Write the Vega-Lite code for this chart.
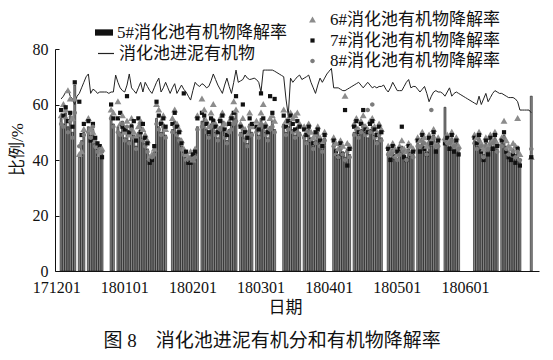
{
"$schema": "https://vega.github.io/schema/vega-lite/v6.json",
"width": 484, "height": 222,
"autosize": {"type": "none"},
"padding": {"left": 55, "top": 49, "right": 14, "bottom": 89},
"title": {"text": "图 8　消化池进泥有机分和有机物降解率", "orient": "bottom", "anchor": "middle", "fontSize": 19, "fontWeight": "normal", "color": "#111", "offset": 17, "dx": -25},
"config": {
 "font": "Liberation Serif, Noto Sans CJK SC",
 "view": {"stroke": null},
 "axis": {"labelFontSize": 16, "labelColor": "#111", "titleFontSize": 17, "titleFontWeight": "normal", "titleColor": "#111", "domainColor": "#111", "tickColor": "#111", "grid": false},
 "legend": {"labelFontSize": 17, "labelColor": "#111", "padding": 0, "labelLimit": 300}
},
"data": {"values": [
{"d":0,"b":55,"l":62,"t":56,"s":58,"c":53},
{"d":1,"b":53,"l":63,"t":60,"s":56,"c":52},
{"d":2,"b":57,"l":64.5,"t":58,"s":59,"c":55},
{"d":3,"b":52,"l":65.5,"t":65,"s":54,"c":50},
{"d":4,"b":56,"l":63,"t":62,"s":57,"c":54},
{"d":5,"b":50,"l":62,"t":55,"s":52,"c":48},
{"d":6,"b":67,"l":60,"t":62,"s":68,"c":57},
{"d":7,"l":63},
{"d":8,"b":41,"l":64,"t":42,"s":61,"c":45},
{"d":9,"b":47,"l":66,"t":43,"s":49,"c":46},
{"d":10,"b":50,"l":68,"t":51,"s":53,"c":49},
{"d":11,"l":70},
{"d":12,"b":52,"l":71,"t":55,"s":54,"c":50},
{"d":13,"b":49,"l":64,"t":51,"s":47,"c":48},
{"d":14,"b":51,"l":65.5,"t":50,"s":53,"c":52},
{"d":15,"b":46,"l":65,"t":47,"s":48,"c":45},
{"d":16,"b":44,"l":64,"t":45,"s":46,"c":43},
{"d":17,"b":43,"l":64.5,"t":42,"s":45,"c":44},
{"d":18,"b":42,"l":64.5,"t":44,"s":41,"c":43},
{"d":19,"l":64.5},
{"d":20,"l":64.5},
{"d":21,"l":64},
{"d":22,"b":56,"l":64.5,"t":58,"s":60,"c":55},
{"d":23,"b":53,"l":64.5,"t":57,"s":55,"c":52},
{"d":24,"l":70.6},
{"d":25,"b":52,"l":68,"t":61,"s":55,"c":50},
{"d":26,"b":50,"l":66,"t":53,"s":57,"c":49},
{"d":27,"b":54,"l":65,"t":56,"s":52,"c":53},
{"d":28,"b":48,"l":64.5,"t":50,"s":51,"c":47},
{"d":29,"b":51,"l":67,"t":54,"s":63,"c":52},
{"d":30,"b":47,"l":71,"t":49,"s":50,"c":46},
{"d":31,"b":53,"l":66,"t":55,"s":52,"c":51},
{"d":32,"b":49,"l":65,"t":50,"s":54,"c":48},
{"d":33,"b":45,"l":64,"t":48,"s":47,"c":44},
{"d":34,"b":50,"l":66,"t":52,"s":55,"c":49},
{"d":35,"b":52,"l":68,"t":54,"s":50,"c":53},
{"d":36,"b":48,"l":64.5,"t":51,"s":53,"c":47},
{"d":37,"b":46,"l":68,"t":49,"s":48,"c":45},
{"d":38,"b":44,"l":66.5,"t":47,"s":46,"c":43},
{"d":39,"b":40,"l":65,"t":41,"s":39,"c":40},
{"d":40,"b":41,"l":64,"t":42,"s":40,"c":41},
{"d":41,"b":43,"l":66,"t":44,"s":45,"c":42},
{"d":42,"b":55,"l":68,"t":60,"s":61,"c":53},
{"d":43,"b":52,"l":69.5,"t":58,"s":56,"c":51},
{"d":44,"b":50,"l":64.5,"t":54,"s":53,"c":49},
{"d":45,"b":53,"l":66,"t":56,"s":55,"c":52},
{"d":46,"b":49,"l":68,"t":51,"s":52,"c":48},
{"d":47,"l":66},
{"d":48,"l":64},
{"d":49,"b":51,"l":66,"t":55,"s":53,"c":50},
{"d":50,"b":54,"l":67.5,"t":58,"s":57,"c":52},
{"d":51,"b":50,"l":64,"t":53,"s":52,"c":49},
{"d":52,"b":48,"l":65.5,"t":51,"s":50,"c":47},
{"d":53,"b":45,"l":67,"t":47,"s":46,"c":44},
{"d":54,"b":43,"l":65.5,"t":44,"s":64,"c":42},
{"d":55,"b":41,"l":64.5,"t":42,"s":43,"c":40},
{"d":56,"b":40,"l":63,"t":41,"s":39,"c":40},
{"d":57,"b":39,"l":61.6,"t":43,"s":39,"c":41},
{"d":58,"b":41,"l":65,"t":40,"s":42,"c":40},
{"d":59,"b":42,"l":68,"t":44,"s":43,"c":41},
{"d":60,"b":52,"l":67,"t":56,"s":55,"c":51},
{"d":61,"l":66.5},
{"d":62,"b":54,"l":67.5,"t":62,"s":57,"c":52},
{"d":63,"b":55,"l":67,"t":58,"s":56,"c":53},
{"d":64,"b":51,"l":66,"t":54,"s":53,"c":50},
{"d":65,"b":49,"l":66.5,"t":52,"s":50,"c":48},
{"d":66,"b":53,"l":68.5,"t":57,"s":55,"c":52},
{"d":67,"b":55,"l":71,"t":60,"s":54,"c":53},
{"d":68,"b":50,"l":69,"t":53,"s":52,"c":49},
{"d":69,"b":48,"l":67,"t":51,"s":50,"c":47},
{"d":70,"b":52,"l":65.5,"t":55,"s":54,"c":51},
{"d":71,"b":54,"l":64,"t":57,"s":56,"c":52},
{"d":72,"b":50,"l":67,"t":53,"s":51,"c":48},
{"d":73,"b":47,"l":69.5,"t":50,"s":49,"c":46},
{"d":74,"b":51,"l":66.5,"t":54,"s":53,"c":50},
{"d":75,"b":53,"l":64,"t":56,"s":55,"c":51},
{"d":76,"b":55,"l":68,"t":61,"s":57,"c":53},
{"d":77,"b":57,"l":72.4,"t":58,"s":63,"c":54},
{"d":78,"l":68},
{"d":79,"b":50,"l":68.5,"t":53,"s":52,"c":49},
{"d":80,"b":52,"l":69,"t":55,"s":60,"c":51},
{"d":81,"b":48,"l":70.6,"t":51,"s":50,"c":47},
{"d":82,"b":46,"l":69.5,"t":49,"s":48,"c":45},
{"d":83,"b":53,"l":69,"t":57,"s":55,"c":52},
{"d":84,"b":50,"l":69.2,"t":52,"s":53,"c":49},
{"d":85,"l":69.5},
{"d":86,"b":51,"l":69,"t":54,"s":52,"c":50},
{"d":87,"b":49,"l":68,"t":52,"s":51,"c":48},
{"d":88,"b":55,"l":64.5,"t":57,"s":64,"c":53},
{"d":89,"b":53,"l":72.4,"t":60,"s":55,"c":52},
{"d":90,"b":50,"l":72.4,"t":53,"s":52,"c":49},
{"d":91,"b":48,"l":72.4,"t":51,"s":50,"c":47},
{"d":92,"b":52,"l":72.4,"t":55,"s":63,"c":51},
{"d":93,"b":54,"l":72.4,"t":56,"s":57,"c":52},
{"d":94,"b":51,"l":72,"t":54,"s":62,"c":50},
{"d":95,"l":71.5},
{"d":96,"l":71},
{"d":97,"l":70.5},
{"d":98,"b":53,"l":70,"t":58,"s":56,"c":52},
{"d":99,"b":50,"l":62,"t":54,"s":52,"c":49},
{"d":100,"b":52,"l":56,"t":55,"s":54,"c":51},
{"d":101,"b":54,"l":69.5,"t":57,"s":56,"c":53},
{"d":102,"b":51,"l":68,"t":55,"s":53,"c":50},
{"d":103,"b":49,"l":69,"t":56,"s":51,"c":48},
{"d":104,"b":52,"l":70,"t":57,"s":54,"c":50},
{"d":105,"b":50,"l":70.6,"t":53,"s":52,"c":49},
{"d":106,"l":69},
{"d":107,"b":49,"l":69.5,"t":52,"s":51,"c":48},
{"d":108,"b":47,"l":70,"t":50,"s":49,"c":46},
{"d":109,"b":51,"l":70.6,"t":53,"s":52,"c":50},
{"d":110,"b":48,"l":68,"t":50,"s":47,"c":47},
{"d":111,"b":45,"l":66,"t":48,"s":46,"c":44},
{"d":112,"b":47,"l":64,"t":49,"s":50,"c":46},
{"d":113,"b":50,"l":67,"t":52,"s":51,"c":48},
{"d":114,"b":46,"l":69.5,"t":48,"s":47,"c":45},
{"d":115,"b":44,"l":68,"t":46,"s":45,"c":43},
{"d":116,"b":48,"l":69.5,"t":50,"s":49,"c":47},
{"d":117,"l":71},
{"d":118,"l":72},
{"d":119,"l":73},
{"d":120,"b":46,"l":66,"t":48,"s":47,"c":45},
{"d":121,"b":44,"l":66,"t":46,"s":43,"c":42},
{"d":122,"b":42,"l":66,"t":44,"s":41,"c":41},
{"d":123,"b":45,"l":65.5,"t":47,"s":46,"c":44},
{"d":124,"b":43,"l":65,"t":45,"s":42,"c":42},
{"d":125,"b":41,"l":65,"t":63,"s":58,"c":40},
{"d":126,"b":44,"l":65.5,"t":46,"s":38,"c":43},
{"d":127,"b":42,"l":66,"t":45,"s":44,"c":41},
{"d":128,"l":66.5},
{"d":129,"b":50,"l":67,"t":53,"s":52,"c":49},
{"d":130,"b":52,"l":67.5,"t":55,"s":54,"c":51},
{"d":131,"b":49,"l":68,"t":51,"s":50,"c":48},
{"d":132,"b":51,"l":67,"t":54,"s":53,"c":50},
{"d":133,"b":53,"l":66,"t":56,"s":58,"c":52},
{"d":134,"b":50,"l":67,"t":52,"s":51,"c":49},
{"d":135,"b":48,"l":68,"t":51,"s":50,"c":58},
{"d":136,"b":51,"l":67,"t":54,"s":53,"c":50},
{"d":137,"b":52,"l":66,"t":55,"s":54,"c":60},
{"d":138,"b":49,"l":66.5,"t":52,"s":51,"c":48},
{"d":139,"b":47,"l":66,"t":50,"s":49,"c":46},
{"d":140,"b":50,"l":66.5,"t":53,"s":52,"c":49},
{"d":141,"b":48,"l":66.5,"t":51,"s":50,"c":47},
{"d":142,"l":67},
{"d":143,"l":65.5},
{"d":144,"b":43,"l":64.5,"t":45,"s":44,"c":42},
{"d":145,"b":41,"l":66,"t":43,"s":40,"c":42},
{"d":146,"b":44,"l":68,"t":46,"s":45,"c":43},
{"d":147,"b":42,"l":66.5,"t":44,"s":41,"c":41},
{"d":148,"b":40,"l":65,"t":42,"s":43,"c":40},
{"d":149,"b":43,"l":65,"t":45,"s":44,"c":42},
{"d":150,"b":45,"l":65,"t":47,"s":52,"c":44},
{"d":151,"b":42,"l":66.5,"t":44,"s":41,"c":43},
{"d":152,"b":41,"l":68,"t":43,"s":40,"c":40},
{"d":153,"b":44,"l":69,"t":46,"s":45,"c":43},
{"d":154,"b":43,"l":66,"t":45,"s":42,"c":42},
{"d":155,"b":42,"l":66.5,"t":44,"s":43,"c":41},
{"d":156,"l":66.5},
{"d":157,"b":46,"l":65.5,"t":48,"s":47,"c":45},
{"d":158,"b":44,"l":64.5,"t":47,"s":43,"c":45},
{"d":159,"b":48,"l":65.5,"t":50,"s":49,"c":47},
{"d":160,"b":45,"l":66.5,"t":48,"s":44,"c":46},
{"d":161,"b":43,"l":64,"t":45,"s":42,"c":42},
{"d":162,"b":47,"l":61,"t":49,"s":48,"c":46},
{"d":163,"b":45,"l":63,"t":47,"s":46,"c":58},
{"d":164,"b":49,"l":64.5,"t":51,"s":50,"c":48},
{"d":165,"b":44,"l":65,"t":46,"s":43,"c":45},
{"d":166,"b":46,"l":64.5,"t":48,"s":47,"c":45},
{"d":167,"l":64.5},
{"d":168,"l":64},
{"d":169,"b":59,"l":63,"t":48,"s":46,"c":47},
{"d":170,"b":47,"l":64.5,"t":49,"s":48,"c":46},
{"d":171,"b":45,"l":66,"t":47,"s":44,"c":46},
{"d":172,"b":48,"l":63,"t":50,"s":49,"c":47},
{"d":173,"b":44,"l":64,"t":46,"s":43,"c":45},
{"d":174,"b":46,"l":64.5,"t":48,"s":47,"c":45},
{"d":175,"b":43,"l":64,"t":45,"s":42,"c":44},
{"d":176,"l":63.5},
{"d":177,"l":63},
{"d":178,"l":62.5},
{"d":179,"l":62},
{"d":180,"l":61.5},
{"d":181,"l":61},
{"d":182,"b":47,"l":60.5,"t":49,"s":48,"c":46},
{"d":183,"b":45,"l":60,"t":48,"s":46,"c":44},
{"d":184,"b":48,"l":63,"t":50,"s":49,"c":47},
{"d":185,"b":44,"l":60,"t":46,"s":43,"c":45},
{"d":186,"b":42,"l":62,"t":44,"s":40,"c":41},
{"d":187,"b":46,"l":64,"t":48,"s":47,"c":45},
{"d":188,"b":43,"l":61,"t":45,"s":42,"c":44},
{"d":189,"b":47,"l":62.5,"t":49,"s":48,"c":46},
{"d":190,"b":45,"l":64,"t":47,"s":44,"c":46},
{"d":191,"b":48,"l":65,"t":50,"s":49,"c":47},
{"d":192,"b":44,"l":64.5,"t":46,"s":45,"c":43},
{"d":193,"l":64},
{"d":194,"b":46,"l":64,"t":48,"s":47,"c":45},
{"d":195,"b":49,"l":63.5,"t":54,"s":50,"c":48},
{"d":196,"b":45,"l":63,"t":47,"s":43,"c":44},
{"d":197,"b":43,"l":62.5,"t":45,"s":41,"c":42},
{"d":198,"b":41,"l":62.5,"t":44,"s":40,"c":42},
{"d":199,"b":44,"l":62.5,"t":46,"s":42,"c":43},
{"d":200,"b":42,"l":62,"t":45,"s":39,"c":41},
{"d":201,"b":45,"l":61,"t":55,"s":44,"c":43},
{"d":202,"b":40,"l":58,"t":42,"s":38,"c":40},
{"d":203,"l":58},
{"d":204,"l":58},
{"d":205,"l":58},
{"d":206,"l":58},
{"d":207,"b":63,"l":57,"t":41,"s":41,"c":44}
]},
"encoding": {
 "x": {"field": "d", "type": "quantitative", "scale": {"domain": [-0.5, 208.2], "nice": false, "zero": false},
  "axis": {"values": [0, 30, 60, 90, 120, 150, 180], "labelExpr": "['171201','180101','180201','180301','180401','180501','180601'][datum.value/30]", "ticks": false, "labelPadding": 8, "labelOffset": -5, "title": "日期", "titlePadding": 4, "titleX": 230}}
},
"layer": [
 {"mark": {"type": "bar", "size": 2, "stroke": "#1a1a1a", "strokeWidth": 0.6, "fillOpacity": 0.5},
  "encoding": {
   "y": {"field": "b", "type": "quantitative", "scale": {"domain": [0, 80], "nice": false}, "title": "比例/%",
     "axis": {"values": [0,10,20,30,40,50,60,70,80], "tickSize": -4, "labelPadding": 11, "titlePadding": 6, "titleY": 100}},
   "fill": {"datum": "5#消化池有机物降解率", "scale": {"range": ["#111111"]},
     "legend": {"title": null, "orient": "none", "legendX": 40, "legendY": -25.5, "symbolType": "M-1,-0.35H1V0.35H-1Z", "symbolSize": 324, "symbolStrokeWidth": 0, "symbolOpacity": 1, "labelOffset": 4}}
  }},
 {"mark": {"type": "line", "strokeWidth": 1},
  "encoding": {
   "y": {"field": "l", "type": "quantitative", "title": "比例/%"},
   "stroke": {"datum": "消化池进泥有机物", "scale": {"range": ["#222"]},
     "legend": {"title": null, "orient": "none", "legendX": 42, "legendY": -4.5, "symbolType": "stroke", "symbolSize": 256, "symbolStrokeWidth": 1.2, "labelOffset": 4}}
  }},
 {"transform": [{"fold": ["t", "s", "c"], "as": ["k", "v"]}],
  "mark": {"type": "point", "filled": true, "size": 36, "opacity": 1},
  "encoding": {
   "y": {"field": "v", "type": "quantitative", "title": "比例/%"},
   "color": {"field": "k", "type": "nominal", "scale": {"domain": ["t", "s", "c"], "range": ["#8c8c8c", "#111111", "#7c7c7c"]},
     "legend": {"title": null, "orient": "none", "legendX": 249, "legendY": -37.5, "symbolSize": 36, "labelOffset": 9, "rowPadding": 2.5,
       "labelExpr": "datum.label=='t'?'6#消化池有机物降解率':datum.label=='s'?'7#消化池有机物降解率':'8#消化池有机物降解率'"}},
   "shape": {"field": "k", "type": "nominal", "scale": {"domain": ["t", "s", "c"], "range": ["M0,-1.15L1.15,0.85H-1.15Z", "M-0.7,-0.7H0.7V0.7H-0.7Z", "M0.75,0A0.75,0.75,0,1,1,-0.75,0A0.75,0.75,0,1,1,0.75,0Z"]},
     "legend": {"title": null, "orient": "none", "legendX": 249, "legendY": -37.5, "symbolSize": 36, "labelOffset": 9, "rowPadding": 2.5,
       "labelExpr": "datum.label=='t'?'6#消化池有机物降解率':datum.label=='s'?'7#消化池有机物降解率':'8#消化池有机物降解率'"}}
  }}
]
}
